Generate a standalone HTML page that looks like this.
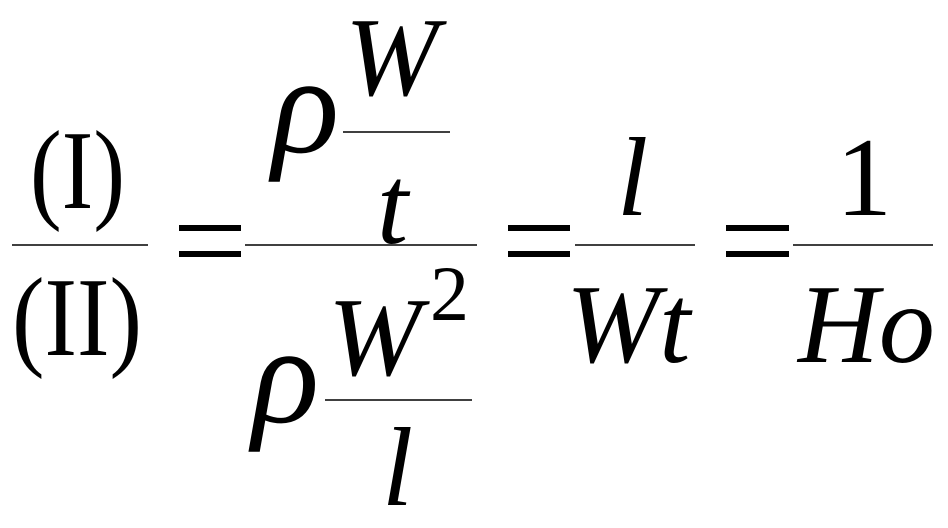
<!DOCTYPE html>
<html><head><meta charset="utf-8"><style>
html,body{margin:0;padding:0;background:#fff;}
svg{display:block}
text{font-family:"Liberation Serif",serif;fill:#000}
.i{font-style:italic}
</style></head><body>
<svg width="948" height="528" viewBox="0 0 948 528" xmlns="http://www.w3.org/2000/svg">
<g stroke="#000" stroke-width="1.5">
<line x1="12" y1="245" x2="148" y2="245"/>
<line x1="245" y1="245" x2="477" y2="245"/>
<line x1="343" y1="132" x2="450" y2="132"/>
<line x1="325" y1="400" x2="472" y2="400"/>
<line x1="575" y1="245" x2="695" y2="245"/>
<line x1="793" y1="245" x2="933" y2="245"/>
</g>
<g fill="#000">
<rect x="179" y="225" width="62" height="6"/><rect x="179" y="251" width="62" height="6"/>
<rect x="508" y="225" width="62" height="6"/><rect x="508" y="251" width="62" height="6"/>
<rect x="726" y="225" width="63" height="6"/><rect x="726" y="251" width="63" height="6"/>
</g>
<text x="30" y="208" font-size="112" textLength="95" lengthAdjust="spacingAndGlyphs">(I)</text>
<text x="12" y="355" font-size="112" textLength="130" lengthAdjust="spacingAndGlyphs">(II)</text>
<text class="i" x="272" y="152" font-size="140">ρ</text>
<text class="i" x="345" y="95" font-size="112">W</text>
<text class="i" x="377" y="243" font-size="112">t</text>
<text class="i" x="252" y="422" font-size="140">ρ</text>
<text class="i" x="328" y="375" font-size="112">W</text>
<text x="430" y="320" font-size="78">2</text>
<text class="i" x="382" y="505" font-size="112">l</text>
<text class="i" x="617" y="215" font-size="112">l</text>
<text class="i" x="566" y="362" font-size="112">Wt</text>
<text x="836" y="215" font-size="112">1</text>
<text class="i" x="798" y="362" font-size="112">Ho</text>
</svg>
</body></html>
